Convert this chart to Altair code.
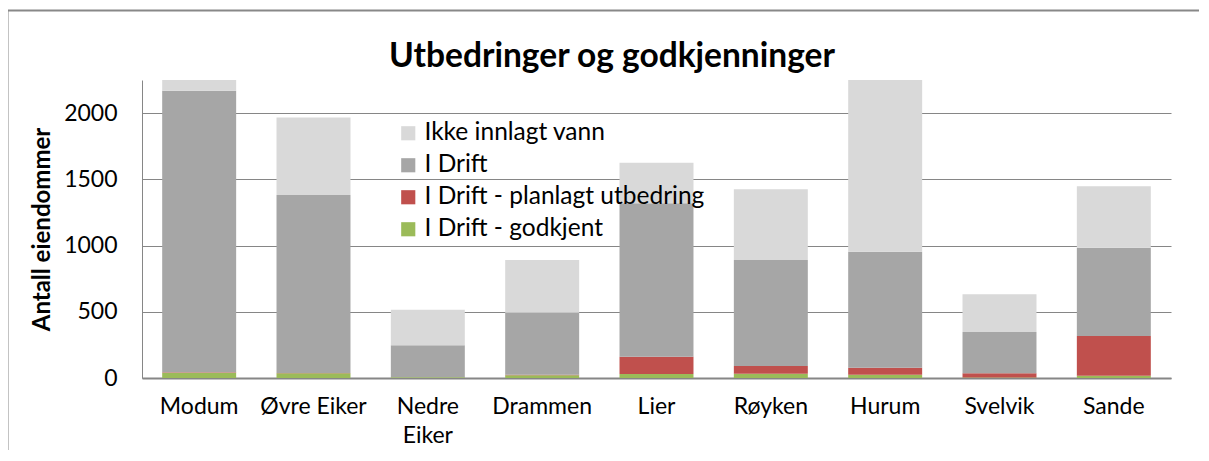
import altair as alt
import pandas as pd

kommuner = ["Modum", "Øvre Eiker", "Nedre Eiker", "Drammen", "Lier", "Røyken", "Hurum", "Svelvik", "Sande"]
godkjent = [40, 35, 5, 20, 30, 32, 25, 3, 17]
planlagt = [3, 2, 0, 5, 131, 58, 53, 32, 300]
i_drift = [2125, 1345, 243, 467, 1159, 800, 875, 312, 666]
ikke_vann = [250, 585, 267, 398, 305, 536, 1400, 285, 464]

series_names = ["Ikke innlagt vann", "I Drift", "I Drift - planlagt utbedring", "I Drift - godkjent"]
series_colors = ["#D9D9D9", "#A6A6A6", "#C0504D", "#9BBB59"]
y_ticks = [0, 500, 1000, 1500, 2000]
chart_title = "Utbedringer og godkjenninger"

rows = []
for i, k in enumerate(kommuner):
    for name, vals, order in [("I Drift - godkjent", godkjent, 0),
                              ("I Drift - planlagt utbedring", planlagt, 1),
                              ("I Drift", i_drift, 2),
                              ("Ikke innlagt vann", ikke_vann, 3)]:
        rows.append({"Kommune": k, "Serie": name, "Antall": vals[i], "rekkefolge": order})
df = pd.DataFrame(rows)

FONT = "Lato"
W, H = 1029, 298
PAD = {"left": 134, "top": 72, "right": 28, "bottom": 72}

bars = alt.Chart(df).mark_bar(clip=True).encode(
    x=alt.X("Kommune:N", sort=kommuner,
            scale=alt.Scale(paddingInner=0.353, paddingOuter=0.1765),
            axis=alt.Axis(title=None, labelAngle=0, labelFontSize=23, labelFont=FONT,
                          labelColor="#000000", labelPadding=17, ticks=False,
                          domainColor="#868686", domainWidth=2, labelLineHeight=29,
                          labelExpr="datum.label == 'Nedre Eiker' ? ['Nedre', 'Eiker'] : datum.label")),
    y=alt.Y("Antall:Q", stack="zero",
            scale=alt.Scale(domain=[0, 2250], nice=False),
            axis=alt.Axis(title="Antall eiendommer", values=y_ticks, format="d", ticks=False,
                          labelFontSize=23, labelFont=FONT, labelColor="#000000",
                          labelPadding=25, gridColor="#868686", gridWidth=1,
                          domainColor="#868686", domainWidth=1,
                          titleFont=FONT, titleFontSize=24, titleFontWeight="bold",
                          titleColor="#000000", titleAngle=-90, titleX=-100, titleY=149,
                          titleAlign="center", titleBaseline="middle")),
    color=alt.Color("Serie:N", scale=alt.Scale(domain=series_names, range=series_colors),
                    legend=alt.Legend(title=None, orient="none", legendX=254, legendY=41,
                                      symbolType="square", symbolSize=200, symbolStrokeWidth=0,
                                      labelFont=FONT, labelFontSize=24.5, labelColor="#000000",
                                      rowPadding=7, labelOffset=4, labelLimit=400)),
    order=alt.Order("rekkefolge:Q", sort="ascending"),
)

frame_df = pd.DataFrame({"d": [0]})
frame_top = alt.Chart(frame_df).mark_rule(color="#888888", strokeWidth=2).encode(
    x=alt.value(-134.5), x2=alt.value(W + PAD["right"] + 10), y=alt.value(-69.5))
frame_left = alt.Chart(frame_df).mark_rule(color="#888888", strokeWidth=2).encode(
    x=alt.value(-134.5), y=alt.value(-69.5), y2=alt.value(H + PAD["bottom"]))

title_df = pd.DataFrame({"t": [chart_title]})
title_mark = alt.Chart(title_df).mark_text(
    font=FONT, fontSize=33.5, fontWeight="bold", color="#000000",
    align="center", baseline="alphabetic").encode(
    text="t:N", x=alt.value(470), y=alt.value(-13))

chart = alt.layer(bars, frame_top, frame_left, title_mark).properties(
    width=W, height=H,
    autosize=alt.AutoSizeParams(type="none"),
    padding=PAD,
).configure(background="white").configure_view(stroke=None)

chart.save("out.html", embed_options={"renderer": "svg", "actions": False})
